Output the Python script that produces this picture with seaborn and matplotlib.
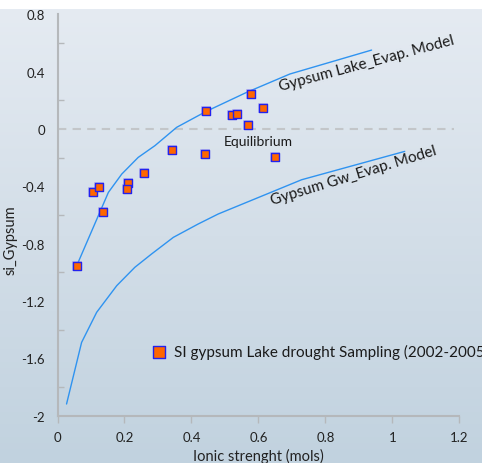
import numpy as np
import pandas as pd
import matplotlib
matplotlib.use("Agg")
import matplotlib.pyplot as plt
from matplotlib.colors import LinearSegmentedColormap
import seaborn as sns

# Measured gypsum saturation index vs ionic strength (lake drought sampling 2002-2005)
ionic_strength = [0.057, 0.106, 0.123, 0.136, 0.210, 0.207, 0.258, 0.341,
                  0.441, 0.444, 0.521, 0.537, 0.569, 0.579, 0.613, 0.651]
si_gypsum = [-0.956, -0.437, -0.407, -0.577, -0.375, -0.417, -0.307, -0.144,
             -0.174, 0.123, 0.100, 0.105, 0.028, 0.246, 0.149, -0.193]

# Evaporation model curves
lake_model_I = [0.057, 0.152, 0.192, 0.241, 0.291, 0.356, 0.444, 0.565, 0.694, 0.938]
lake_model_si = [-0.956, -0.442, -0.314, -0.198, -0.116, 0.012, 0.123, 0.256, 0.384, 0.551]
gw_model_I = [0.027, 0.072, 0.117, 0.177, 0.231, 0.281, 0.346, 0.420, 0.480, 0.729, 1.037]
gw_model_si = [-1.919, -1.489, -1.279, -1.093, -0.965, -0.872, -0.756, -0.663, -0.593, -0.354, -0.156]

x_ticks = [0, 0.2, 0.4, 0.6, 0.8, 1.0, 1.2]
x_tick_labels = ["0", "0.2", "0.4", "0.6", "0.8", "1", "1.2"]
y_ticks = [-2.0, -1.6, -1.2, -0.8, -0.4, 0.0, 0.4, 0.8]
y_tick_labels = ["-2", "-1.6", "-1.2", "-0.8", "-0.4", "0", "0.4", "0.8"]
y_minor = [-1.8, -1.4, -1.0, -0.6, -0.2, 0.2, 0.6]

samples = pd.DataFrame({"I": ionic_strength, "si": si_gypsum})
lake = pd.DataFrame({"I": lake_model_I, "si": lake_model_si})
gw = pd.DataFrame({"I": gw_model_I, "si": gw_model_si})

sns.set_theme(style="white")
plt.rcParams["font.family"] = ["Lato", "DejaVu Sans"]

W, H = 482, 464
fig = plt.figure(figsize=(W / 100, H / 100), dpi=100)
fig.patch.set_facecolor("white")

# gradient backdrop below a thin white band
bg = fig.add_axes([0, 0, 1, 1 - 10 / H])
bg.set_axis_off()
cmap = LinearSegmentedColormap.from_list("bgfill", ["#e5ebf2", "#d3dee8", "#c1d2df"])
grad = np.linspace(0, 1, 256).reshape(-1, 1)
bg.imshow(grad, aspect="auto", cmap=cmap, extent=[0, 1, 0, 1], origin="upper")
bg.set_zorder(0)

x0, x1 = 57.5, 459.3
ytop, ybot = 15.4, 416.6
ax = fig.add_axes([x0 / W, 1 - ybot / H, (x1 - x0) / W, (ybot - ytop) / H])
ax.set_zorder(1)
ax.patch.set_alpha(0)

line_color = "#2f93f0"
sns.lineplot(data=lake, x="I", y="si", sort=False, ax=ax, color=line_color, lw=1.0)
sns.lineplot(data=gw, x="I", y="si", sort=False, ax=ax, color=line_color, lw=1.0)

ax.axhline(0, xmin=0, xmax=1.185 / 1.2, color="#c3c6c9", lw=1.5, ls=(0, (4, 3)), zorder=1)

# soft halo under each sample marker
sns.scatterplot(data=samples, x="I", y="si", ax=ax, marker="s", s=60,
                color="#7a6cf0", alpha=0.35, linewidth=0, zorder=3)
sns.scatterplot(data=samples, x="I", y="si", ax=ax, marker="s", s=26,
                color="#ff6600", edgecolor="#2222ee", linewidth=1.0, zorder=4,
                label="SI gypsum Lake drought Sampling (2002-2005)")

ax.set_xlim(0, 1.2)
ax.set_ylim(-2, 0.8)
ax.set_xticks(x_ticks)
ax.set_xticklabels(x_tick_labels)
ax.set_yticks(y_ticks)
ax.set_yticklabels(y_tick_labels)
ax.set_yticks(y_minor, minor=True)
ax.tick_params(axis="x", which="major", direction="out", length=5, width=1,
               color="#b5b8bb", labelsize=9.5, labelcolor="#222222", pad=6, bottom=True)
ax.tick_params(axis="y", which="major", length=0, labelsize=9.5, labelcolor="#222222", pad=9)
ax.tick_params(axis="y", which="minor", direction="in", length=4, width=1,
               color="#b5b8bb", left=True)
for side in ("top", "right"):
    ax.spines[side].set_visible(False)
for side in ("left", "bottom"):
    ax.spines[side].set_color("#b5b8bb")
    ax.spines[side].set_linewidth(1.5)

ax.set_xlabel("Ionic strenght (mols)", fontsize=10.5, color="#222222", labelpad=4)
ax.set_ylabel("si_Gypsum", fontsize=10.5, color="#222222")
ax.yaxis.set_label_coords(-0.1, 0.44)

ax.text(0.922, 0.465, "Gypsum Lake_Evap. Model", rotation=15, fontsize=11,
        color="#1a1a1a", ha="center", va="center", rotation_mode="anchor")
ax.text(0.885, -0.32, "Gypsum Gw_Evap. Model", rotation=17, fontsize=11,
        color="#1a1a1a", ha="center", va="center", rotation_mode="anchor")
ax.text(0.60, -0.085, "Equilibrium", fontsize=10, color="#1a1a1a",
        ha="center", va="center")

leg = ax.legend(loc="center left", bbox_to_anchor=(153 / W, 1 - 352.7 / H),
                bbox_transform=fig.transFigure, frameon=False, fontsize=11,
                handlelength=0.8, handletextpad=0.55, borderpad=0, borderaxespad=0,
                markerscale=1.6)
for t in leg.get_texts():
    t.set_color("#1a1a1a")

fig.savefig("out.png", dpi=100)
